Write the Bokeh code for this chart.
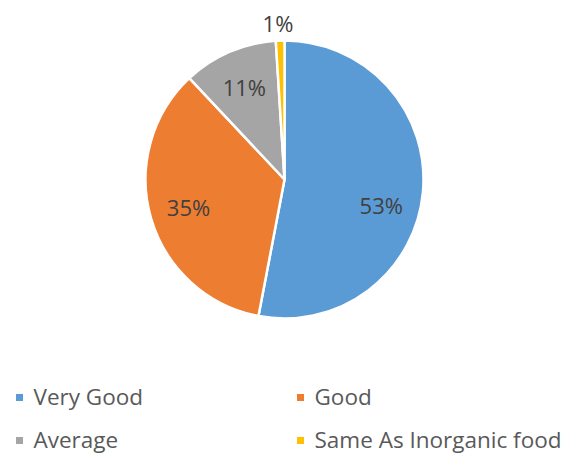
import numpy as np
from bokeh.plotting import figure
from bokeh.models import Range1d, ColumnDataSource
from bokeh.core.properties import value
from bokeh.embed import file_html
from bokeh.resources import INLINE

categories = ["Very Good", "Good", "Average", "Same As Inorganic food"]
shares = [53, 35, 11, 1]
labels = ["53%", "35%", "11%", "1%"]
colors = ["#5B9BD5", "#ED7D31", "#A5A5A5", "#FFC000"]

W, H = 574, 455
p = figure(width=W, height=H, output_backend="svg", toolbar_location=None,
           x_range=Range1d(0, W), y_range=Range1d(H, 0), min_border=0)
p.axis.visible = False
p.grid.visible = False
p.outline_line_color = None
p.background_fill_color = "white"
p.border_fill_color = "white"

cx, cy, r = 284, 179, 139
vals = np.array(shares, dtype=float)
frac = vals / vals.sum()
cum = np.concatenate([[0], np.cumsum(frac)])
# screen angles: start at top, go clockwise
start = np.pi / 2 - 2 * np.pi * cum[:-1]
end = np.pi / 2 - 2 * np.pi * cum[1:]

src = ColumnDataSource(dict(start=start, end=end, color=colors, cat=categories))
p.wedge(x=cx, y=cy, radius=r, start_angle="start", end_angle="end",
        fill_color="color", line_color="white", line_width=2.5, source=src,
        direction="clock")

# label positions (y axis is flipped, so use negated screen angles)
mid = -(start + end) / 2
lr = np.array([100, 100, 101, 157], dtype=float)
adj = np.array([0.16, 0.0, 0.0, -0.01])  # small angular nudges for label placement
lx = cx + lr * np.cos(mid + adj)
ly = cy + lr * np.sin(mid + adj)
p.text(x=lx, y=ly, text=labels, text_align="center", text_baseline="middle",
       text_font=value("Open Sans"), text_font_size="22px", text_color="#404040")

# legend
lgx = np.array([19, 300, 19, 300], dtype=float)
lgy = np.array([396, 396, 439, 439], dtype=float)
p.scatter(x=lgx, y=lgy + 1, marker="square", size=7, fill_color=colors, line_color=None)
p.text(x=lgx + 14, y=lgy, text=categories, text_align="left", text_baseline="middle",
       text_font=value("Open Sans"), text_font_size="22.5px", text_color="#595959")

open("out.html", "w").write(file_html(p, INLINE))
